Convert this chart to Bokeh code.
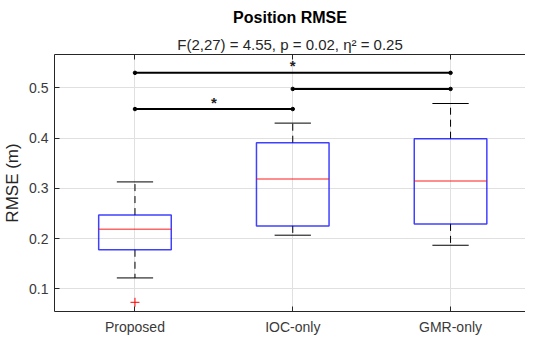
from bokeh.plotting import figure
from bokeh.models import (Range1d, FixedTicker, LinearAxis, Title, CustomLabelingPolicy)
from bokeh.core.properties import value
from bokeh.embed import file_html
from bokeh.resources import INLINE

# ---- data ----
categories = ["Proposed", "IOC-only", "GMR-only"]
q1 = [0.178, 0.2255, 0.2295]
medians = [0.219, 0.319, 0.3147]
q3 = [0.247, 0.391, 0.399]
whisker_low = [0.122, 0.207, 0.187]
whisker_high = [0.313, 0.430, 0.469]
outlier_group = [0]
outlier_values = [0.0735]
sig_from = [0, 1, 0]
sig_to = [2, 2, 1]
sig_level = [0.530, 0.498, 0.458]
sig_label = ["*", "", "*"]
y_ticks = [0.1, 0.2, 0.3, 0.4, 0.5]

FONT = "Liberation Sans"
xs = [i + 1 for i in range(len(categories))]
box_w = 0.46
cap_w = 0.23

p = figure(width=525, height=337, output_backend="svg", toolbar_location=None,
           title=None,
           x_range=Range1d(0.49, 3.475), y_range=Range1d(0.0552, 0.5665),
           min_border_left=50, min_border_right=0, min_border_top=46, min_border_bottom=0)
p.background_fill_color = "white"
p.border_fill_color = "white"
p.outline_line_color = None

# grid
p.xgrid.ticker = FixedTicker(ticks=xs)
p.ygrid.ticker = FixedTicker(ticks=y_ticks)
for g in (p.xgrid, p.ygrid):
    g.grid_line_color = "#e0e0e0"
    g.grid_line_width = 1

def style_axis(ax):
    ax.axis_line_color = "#262626"
    ax.major_tick_line_color = "#262626"
    ax.major_tick_in = 5
    ax.major_tick_out = 0
    ax.minor_tick_line_color = None
    ax.major_label_text_font = FONT
    ax.major_label_text_font_size = "14px"
    ax.major_label_text_color = "#3a3a3a"

p.xaxis.ticker = FixedTicker(ticks=xs)
p.xaxis.major_label_overrides = {x: c for x, c in zip(xs, categories)}
style_axis(p.xaxis[0])
p.xaxis.major_label_standoff = 7

p.yaxis.ticker = FixedTicker(ticks=y_ticks)
p.yaxis.major_label_overrides = {t: f"{t:.1f}" for t in y_ticks}
style_axis(p.yaxis[0])
p.yaxis.major_label_standoff = 6
p.yaxis.axis_label = "RMSE (m)"
p.yaxis.axis_label_text_font = FONT
p.yaxis.axis_label_text_font_size = "17px"
p.yaxis.axis_label_text_font_style = "normal"
p.yaxis.axis_label_text_color = "#262626"
p.yaxis.axis_label_standoff = 4

# top axis: frame line and tick marks only (labels filtered out)
hide_all = CustomLabelingPolicy(code="""
try { for (let i = 0; i < indices.size; i++) { indices.unset(i) } } catch (e) {}
return indices
""")
top_ax = LinearAxis(ticker=FixedTicker(ticks=xs), major_label_policy=hide_all)
style_axis(top_ax)
top_ax.major_label_text_font_size = "0px"
top_ax.major_label_standoff = 0
p.add_layout(top_ax, "above")

# titles (subtitle first = closest to plot)
p.add_layout(Title(text="F(2,27) = 4.55, p = 0.02, η² = 0.25", align="center",
                   text_font=FONT, text_font_size="15px", text_font_style="normal",
                   text_color="#262626", standoff=4), "above")
p.add_layout(Title(text="Position RMSE", align="center",
                   text_font=FONT, text_font_size="16px", text_font_style="bold",
                   text_color="#000000", standoff=12), "above")

# whiskers (dashed)
p.segment(x0=xs, y0=q3, x1=xs, y1=whisker_high, line_color="black",
          line_width=1, line_dash="7 5")
p.segment(x0=xs, y0=q1, x1=xs, y1=whisker_low, line_color="black",
          line_width=1, line_dash="7 5")
# caps
p.segment(x0=[x - cap_w / 2 for x in xs], y0=whisker_high,
          x1=[x + cap_w / 2 for x in xs], y1=whisker_high, line_color="black", line_width=1)
p.segment(x0=[x - cap_w / 2 for x in xs], y0=whisker_low,
          x1=[x + cap_w / 2 for x in xs], y1=whisker_low, line_color="black", line_width=1)
# boxes
p.quad(left=[x - box_w / 2 for x in xs], right=[x + box_w / 2 for x in xs],
       bottom=q1, top=q3, fill_color=None, line_color="#0000ff", line_width=1.5,
       line_alpha=0.75)
# medians
p.segment(x0=[x - box_w / 2 for x in xs], y0=medians,
          x1=[x + box_w / 2 for x in xs], y1=medians, line_color="#ff0000",
          line_width=1.5, line_alpha=0.6)
# outliers
p.scatter(x=[xs[i] for i in outlier_group], y=outlier_values, marker="cross",
          size=9, line_color="#ff0000", line_width=1)

# significance brackets
bx0 = [xs[i] for i in sig_from]
bx1 = [xs[i] for i in sig_to]
p.segment(x0=bx0, y0=sig_level, x1=bx1, y1=sig_level, line_color="black", line_width=2)
p.scatter(x=bx0 + bx1, y=sig_level + sig_level, marker="circle", size=3.5,
          fill_color="black", line_color="black")
star_x = [(a + b) / 2 for a, b, s in zip(bx0, bx1, sig_label) if s]
star_y = [lv for lv, s in zip(sig_level, sig_label) if s]
star_t = [s for s in sig_label if s]
p.text(x=star_x, y=star_y, text=star_t, text_font=value(FONT), text_font_size="15px",
       text_font_style="bold", text_align="center", text_baseline="middle",
       text_color="#222222", y_offset=-7)

open("out.html", "w").write(file_html(p, INLINE))
